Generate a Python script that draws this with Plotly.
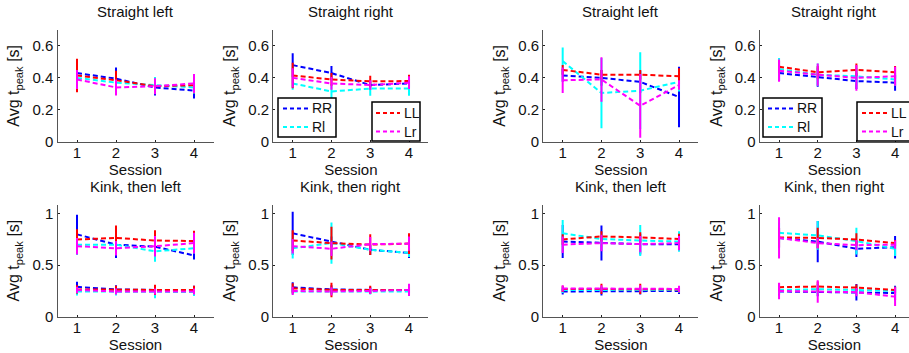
import plotly.graph_objects as go

sessions = [1, 2, 3, 4]
tick_vals_top = [0, 0.2, 0.4, 0.6]
tick_text_top = ["0", "0.2", "0.4", "0.6"]
tick_vals_bottom = [0, 0.5, 1]
tick_text_bottom = ["0", "0.5", "1"]
series_names = ["RR", "Rl", "LL", "Lr"]
series_colors = {"RR": "#0000ff", "Rl": "#00ffff", "LL": "#ff0000", "Lr": "#ff00ff"}
titles = ["Straight left", "Straight right", "Straight left", "Straight right",
          "Kink, then left", "Kink, then right", "Kink, then left", "Kink, then right"]

# ---- group A, straight left
a_sl_mean = {"RR": [0.43, 0.395, 0.34, 0.32], "Rl": [0.40, 0.37, 0.355, 0.34],
             "LL": [0.415, 0.385, 0.348, 0.354], "Lr": [0.39, 0.34, 0.348, 0.365]}
a_sl_err = {"RR": [0.06, 0.07, 0.05, 0.05], "Rl": [0.05, 0.04, 0.05, 0.04],
            "LL": [0.105, 0.06, 0.04, 0.05], "Lr": [0.06, 0.05, 0.05, 0.06]}
# ---- group A, straight right
a_sr_mean = {"RR": [0.48, 0.43, 0.355, 0.365], "Rl": [0.365, 0.315, 0.333, 0.333],
             "LL": [0.415, 0.39, 0.378, 0.38], "Lr": [0.40, 0.365, 0.355, 0.37]}
a_sr_err = {"RR": [0.075, 0.045, 0.03, 0.03], "Rl": [0.04, 0.045, 0.045, 0.045],
            "LL": [0.08, 0.04, 0.035, 0.04], "Lr": [0.06, 0.04, 0.03, 0.04]}
# ---- group B, straight left
b_sl_mean = {"RR": [0.415, 0.40, 0.375, 0.28], "Rl": [0.505, 0.305, 0.32, 0.375],
             "LL": [0.45, 0.42, 0.42, 0.41], "Lr": [0.385, 0.39, 0.225, 0.355]}
b_sl_err = {"RR": [0.04, 0.05, 0.07, 0.19], "Rl": [0.085, 0.22, 0.24, 0.06],
            "LL": [0.03, 0.03, 0.03, 0.05], "Lr": [0.08, 0.14, 0.2, 0.03]}
# ---- group B, straight right
b_sr_mean = {"RR": [0.43, 0.405, 0.38, 0.37], "Rl": [0.455, 0.42, 0.41, 0.39],
             "LL": [0.47, 0.435, 0.45, 0.435], "Lr": [0.445, 0.42, 0.40, 0.41]}
b_sr_err = {"RR": [0.05, 0.06, 0.05, 0.05], "Rl": [0.07, 0.07, 0.05, 0.04],
            "LL": [0.04, 0.04, 0.04, 0.04], "Lr": [0.07, 0.07, 0.08, 0.06]}

# ---- group A, kink then left (upper and lower peaks)
a_kl_up_mean = {"RR": [0.80, 0.70, 0.68, 0.595], "Rl": [0.70, 0.70, 0.635, 0.665],
                "LL": [0.75, 0.765, 0.74, 0.735], "Lr": [0.685, 0.665, 0.685, 0.715]}
a_kl_up_err = {"RR": [0.19, 0.13, 0.1, 0.04], "Rl": [0.1, 0.08, 0.1, 0.05],
               "LL": [0.1, 0.12, 0.1, 0.1], "Lr": [0.08, 0.07, 0.1, 0.1]}
a_kl_lo_mean = {"RR": [0.29, 0.265, 0.26, 0.26], "Rl": [0.245, 0.245, 0.24, 0.24],
                "LL": [0.265, 0.26, 0.26, 0.26], "Lr": [0.26, 0.245, 0.245, 0.245]}
a_kl_lo_err = {"RR": [0.05, 0.04, 0.04, 0.04], "Rl": [0.04, 0.04, 0.06, 0.04],
               "LL": [0.04, 0.04, 0.05, 0.04], "Lr": [0.03, 0.03, 0.03, 0.03]}
# ---- group A, kink then right
a_kr_up_mean = {"RR": [0.81, 0.73, 0.65, 0.62], "Rl": [0.665, 0.715, 0.65, 0.62],
                "LL": [0.74, 0.715, 0.70, 0.71], "Lr": [0.685, 0.66, 0.705, 0.71]}
a_kr_up_err = {"RR": [0.21, 0.05, 0.05, 0.05], "Rl": [0.1, 0.2, 0.04, 0.04],
               "LL": [0.1, 0.16, 0.1, 0.1], "Lr": [0.07, 0.07, 0.07, 0.07]}
a_kr_lo_mean = {"RR": [0.285, 0.265, 0.26, 0.26], "Rl": [0.245, 0.245, 0.245, 0.245],
                "LL": [0.275, 0.26, 0.26, 0.26], "Lr": [0.25, 0.245, 0.25, 0.26]}
a_kr_lo_err = {"RR": [0.05, 0.04, 0.03, 0.03], "Rl": [0.03, 0.03, 0.03, 0.03],
               "LL": [0.05, 0.07, 0.04, 0.05], "Lr": [0.04, 0.04, 0.03, 0.06]}
# ---- group B, kink then left
b_kl_up_mean = {"RR": [0.73, 0.715, 0.705, 0.705], "Rl": [0.81, 0.755, 0.74, 0.73],
                "LL": [0.75, 0.78, 0.77, 0.755], "Lr": [0.70, 0.715, 0.705, 0.715]}
b_kl_up_err = {"RR": [0.16, 0.17, 0.1, 0.05], "Rl": [0.13, 0.05, 0.15, 0.1],
               "LL": [0.05, 0.05, 0.05, 0.05], "Lr": [0.08, 0.08, 0.08, 0.07]}
b_kl_lo_mean = {"RR": [0.245, 0.245, 0.245, 0.25], "Rl": [0.26, 0.26, 0.26, 0.26],
                "LL": [0.27, 0.27, 0.27, 0.265], "Lr": [0.275, 0.275, 0.275, 0.27]}
b_kl_lo_err = {"RR": [0.03, 0.04, 0.03, 0.03], "Rl": [0.03, 0.03, 0.03, 0.03],
               "LL": [0.03, 0.05, 0.05, 0.03], "Lr": [0.03, 0.03, 0.03, 0.03]}
# ---- group B, kink then right
b_kr_up_mean = {"RR": [0.765, 0.73, 0.66, 0.675], "Rl": [0.815, 0.79, 0.735, 0.66],
                "LL": [0.77, 0.765, 0.75, 0.715], "Lr": [0.765, 0.715, 0.695, 0.70]}
b_kr_up_err = {"RR": [0.1, 0.2, 0.08, 0.11], "Rl": [0.1, 0.14, 0.13, 0.07],
               "LL": [0.1, 0.1, 0.06, 0.03], "Lr": [0.2, 0.05, 0.05, 0.04]}
b_kr_lo_mean = {"RR": [0.245, 0.238, 0.238, 0.23], "Rl": [0.26, 0.267, 0.26, 0.25],
                "LL": [0.287, 0.293, 0.283, 0.26], "Lr": [0.25, 0.245, 0.238, 0.195]}
b_kr_lo_err = {"RR": [0.04, 0.04, 0.08, 0.07], "Rl": [0.04, 0.05, 0.04, 0.04],
               "LL": [0.04, 0.05, 0.03, 0.03], "Lr": [0.08, 0.11, 0.04, 0.09]}

panels = [
    [(a_sl_mean, a_sl_err)],
    [(a_sr_mean, a_sr_err)],
    [(b_sl_mean, b_sl_err)],
    [(b_sr_mean, b_sr_err)],
    [(a_kl_up_mean, a_kl_up_err), (a_kl_lo_mean, a_kl_lo_err)],
    [(a_kr_up_mean, a_kr_up_err), (a_kr_lo_mean, a_kr_lo_err)],
    [(b_kl_up_mean, b_kl_up_err), (b_kl_lo_mean, b_kl_lo_err)],
    [(b_kr_up_mean, b_kr_up_err), (b_kr_lo_mean, b_kr_lo_err)],
]

# ---------------- layout geometry (pixels) ----------------
W, H = 909, 353
x_px = [(57.5, 213.5), (273.3, 428.4), (543.3, 698.4), (759.7, 909.0)]
x_ranges = [[0.5, 4.5], [0.5, 4.5], [0.5, 4.5], [0.5, 4.36]]
y_px = [(30.0, 141.7), (204.5, 316.7)]
y_ranges = [[0, 0.7], [0, 1.09]]

# legend boxes: (x0, y0, x1, y1) box, sample line x-span, row centres, text x, entries
legend_boxes = [
    dict(box=(278, 98, 336, 137), sample=(283, 308), rows=(108.5, 127), tx=310, names=["RR", "Rl"]),
    dict(box=(372, 102, 420, 141), sample=(376, 400), rows=(113, 131.5), tx=402, names=["LL", "Lr"]),
    dict(box=(763, 98, 822, 137), sample=(768, 793), rows=(108.5, 127), tx=795, names=["RR", "Rl"]),
    dict(box=(857, 102, 930, 141), sample=(862, 887), rows=(113, 131.5), tx=889, names=["LL", "Lr"]),
]

FONT = "Liberation Sans, Arial, sans-serif"
TXT = "#111111"
AX = "#555555"
DASH = "5px,3px"


def px(xp):
    return xp / W


def py(yp):
    return 1 - yp / H


fig = go.Figure()
layout = dict(width=W, height=H, margin=dict(l=0, r=0, t=0, b=0, autoexpand=False),
              paper_bgcolor="white", plot_bgcolor="white", showlegend=False,
              font=dict(family=FONT, size=15, color=TXT), annotations=[], shapes=[])

for i, groups in enumerate(panels):
    row, col = divmod(i, 4)
    n = i + 1
    xa = "x" if n == 1 else f"x{n}"
    ya = "y" if n == 1 else f"y{n}"
    for g, (means, errs) in enumerate(groups):
        for s in series_names:
            fig.add_trace(go.Scatter(
                x=sessions, y=means[s], xaxis=xa, yaxis=ya, mode="lines",
                name=s, showlegend=False,
                line=dict(color=series_colors[s], width=2, dash=DASH),
                error_y=dict(type="data", array=errs[s], visible=True,
                             color=series_colors[s], thickness=2, width=0),
            ))
    x0, x1 = x_px[col]
    y0, y1 = y_px[row]
    key = "" if n == 1 else str(n)
    layout["xaxis" + key] = dict(
        domain=[x0 / W, x1 / W], range=x_ranges[col], anchor=ya,
        tickvals=sessions, ticktext=[str(s) for s in sessions],
        showline=True, linecolor=AX, linewidth=1.2, ticks="inside", ticklen=2,
        tickcolor="#222222", showgrid=False, zeroline=False, mirror=False,
        tickfont=dict(size=15, color=TXT), ticklabelstandoff=-3,
        title=dict(text="Session", font=dict(size=15, color=TXT), standoff=0),
    )
    layout["yaxis" + key] = dict(
        domain=[1 - y1 / H, 1 - y0 / H], range=y_ranges[row], anchor=xa,
        tickvals=tick_vals_top if row == 0 else tick_vals_bottom,
        ticktext=tick_text_top if row == 0 else tick_text_bottom,
        showline=True, linecolor=AX, linewidth=1.2, ticks="inside", ticklen=2,
        tickcolor="#222222", showgrid=False, zeroline=False, mirror=False,
        tickfont=dict(size=15, color=TXT),
        title=dict(text="Avg t<sub>peak</sub> [s]", font=dict(size=16, color=TXT), standoff=8),
    )
    layout["annotations"].append(dict(
        text=titles[i], xref=f"{xa} domain", yref=f"{ya} domain", x=0.5, y=1,
        xanchor="center", yanchor="middle", yshift=18, showarrow=False,
        font=dict(size=15, color=TXT)))

# legend boxes drawn as framed keys
for lb in legend_boxes:
    bx0, by0, bx1, by1 = lb["box"]
    layout["shapes"].append(dict(
        type="rect", xref="paper", yref="paper", x0=px(bx0), x1=px(bx1),
        y0=py(by1), y1=py(by0), line=dict(color="black", width=1.5),
        fillcolor="white", layer="above"))
    for name, ry in zip(lb["names"], lb["rows"]):
        layout["shapes"].append(dict(
            type="line", xref="paper", yref="paper", x0=px(lb["sample"][0]),
            x1=px(lb["sample"][1]), y0=py(ry), y1=py(ry),
            line=dict(color=series_colors[name], width=2, dash="4px,3px"), layer="above"))
        layout["annotations"].append(dict(
            text=name, xref="paper", yref="paper", x=px(lb["tx"]), y=py(ry),
            xanchor="left", yanchor="middle", showarrow=False,
            font=dict(size=14, color=TXT)))

fig.update_layout(**layout)
fig.write_html("out.html")
